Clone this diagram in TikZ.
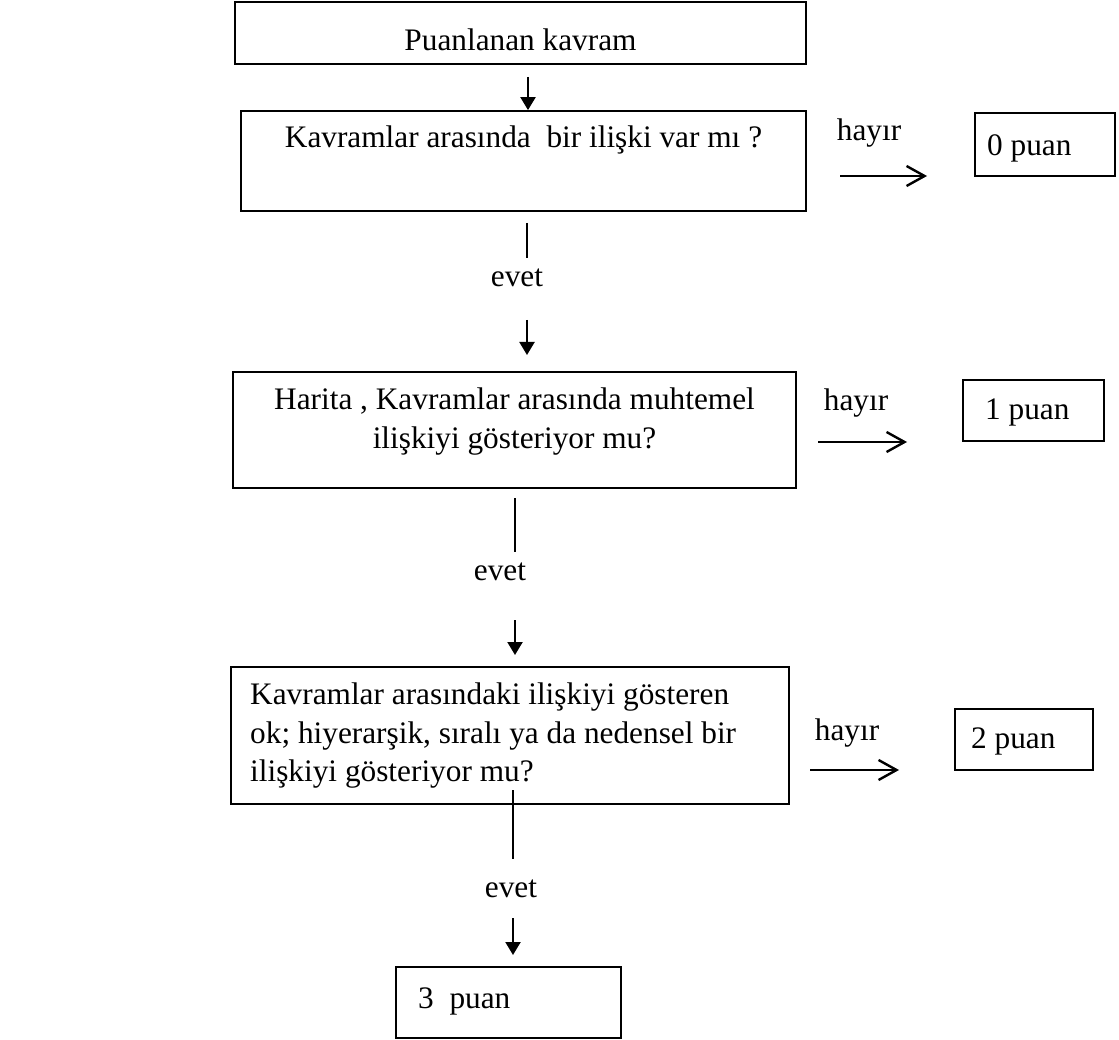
\documentclass[tikz,border=0pt]{standalone}
\usepackage{fontspec}
\setmainfont{Liberation Serif}
\usetikzlibrary{arrows.meta}
\begin{document}
\begin{tikzpicture}[x=1pt,y=-1pt,
  box/.style={draw, line width=1.8pt, inner sep=0pt},
  txt/.style={inner sep=0pt, font=\fontsize{31.3}{39}\selectfont},
  vline/.style={line width=1.7pt},
  downarrow/.style={line width=2.2pt, -{Triangle[width=15pt,length=13pt]}},
  sidearrow/.style={line width=2.4pt, -{Straight Barb[length=18pt,width=20pt,line width=2.4pt]}}]
\useasboundingbox (0,0) rectangle (1119,1040);

% boxes
\node[box, minimum width=571pt, minimum height=62pt]  (b1) at (520.5,33) {};
\node[box, minimum width=565pt, minimum height=100pt] (b2) at (523.5,161) {};
\node[box, minimum width=563pt, minimum height=116pt] (b3) at (514.5,430) {};
\node[box, minimum width=558pt, minimum height=137pt] (b4) at (510,735.5) {};
\node[box, minimum width=140pt, minimum height=63pt]  (p0) at (1045,144.5) {};
\node[box, minimum width=141pt, minimum height=61pt]  (p1) at (1033.5,410.5) {};
\node[box, minimum width=138pt, minimum height=61pt]  (p2) at (1024,739.5) {};
\node[box, minimum width=225pt, minimum height=71pt]  (p3) at (508.5,1002.5) {};

% box texts
\node[txt, anchor=base] (t1) at (520.5,51) {Puanlanan kavram};
\node[txt, anchor=base] (t2) at (523.5,148) {Kavramlar arasında\ \ bir ilişki var mı ?};
\node[txt, align=center, anchor=center] (t3) at (514.5,422) {Harita , Kavramlar arasında muhtemel\\ilişkiyi gösteriyor mu?};
\node[txt, font=\fontsize{31.3}{38.5}\selectfont, align=left, anchor=west] (t4) at (250,736) {Kavramlar arasındaki ilişkiyi gösteren\\ok; hiyerarşik, sıralı ya da nedensel bir\\ilişkiyi gösteriyor mu?};
\node[txt, anchor=base west] (q0) at (987,156) {0 puan};
\node[txt, anchor=base west] (q1) at (985,420) {1 puan};
\node[txt, anchor=base west] (q2) at (971,748) {2 puan};
\node[txt, anchor=base west] (q3) at (418,1008) {3\ \ puan};

% labels
\node[txt, anchor=base] (e1) at (517,287) {evet};
\node[txt, anchor=base] (e2) at (500,580) {evet};
\node[txt, anchor=base] (e3) at (511,897) {evet};
\node[txt, anchor=base] (h1) at (869,141) {hayır};
\node[txt, anchor=base] (h2) at (856,410) {hayır};
\node[txt, anchor=base] (h3) at (847,740) {hayır};

% connector end points
\coordinate (a1s) at (528,77);
\coordinate (l1s) at (527,223);
\coordinate (l1e) at (527,258);
\coordinate (a2s) at (527,320);
\coordinate (a2e) at (527,355);
\coordinate (l2s) at (515,498);
\coordinate (l2e) at (515,552);
\coordinate (a3s) at (515,620);
\coordinate (a3e) at (515,655);
\coordinate (l3s) at (513,790);
\coordinate (l3e) at (513,859);
\coordinate (a4s) at (513,918);
\coordinate (a4e) at (513,955);
\coordinate (s1s) at (840,176);
\coordinate (s1e) at (927,176);
\coordinate (s2s) at (818,442);
\coordinate (s2e) at (907,442);
\coordinate (s3s) at (810,770);
\coordinate (s3e) at (899,770);

% connectors
\draw[downarrow] (a1s) -- (a1s |- b2.north);
\draw[vline] (l1s) -- (l1e);
\draw[downarrow] (a2s) -- (a2e);
\draw[vline] (l2s) -- (l2e);
\draw[downarrow] (a3s) -- (a3e);
\draw[vline] (l3s) -- (l3e);
\draw[downarrow] (a4s) -- (a4e);
\draw[sidearrow] (s1s) -- (s1e);
\draw[sidearrow] (s2s) -- (s2e);
\draw[sidearrow] (s3s) -- (s3e);
\end{tikzpicture}
\end{document}
